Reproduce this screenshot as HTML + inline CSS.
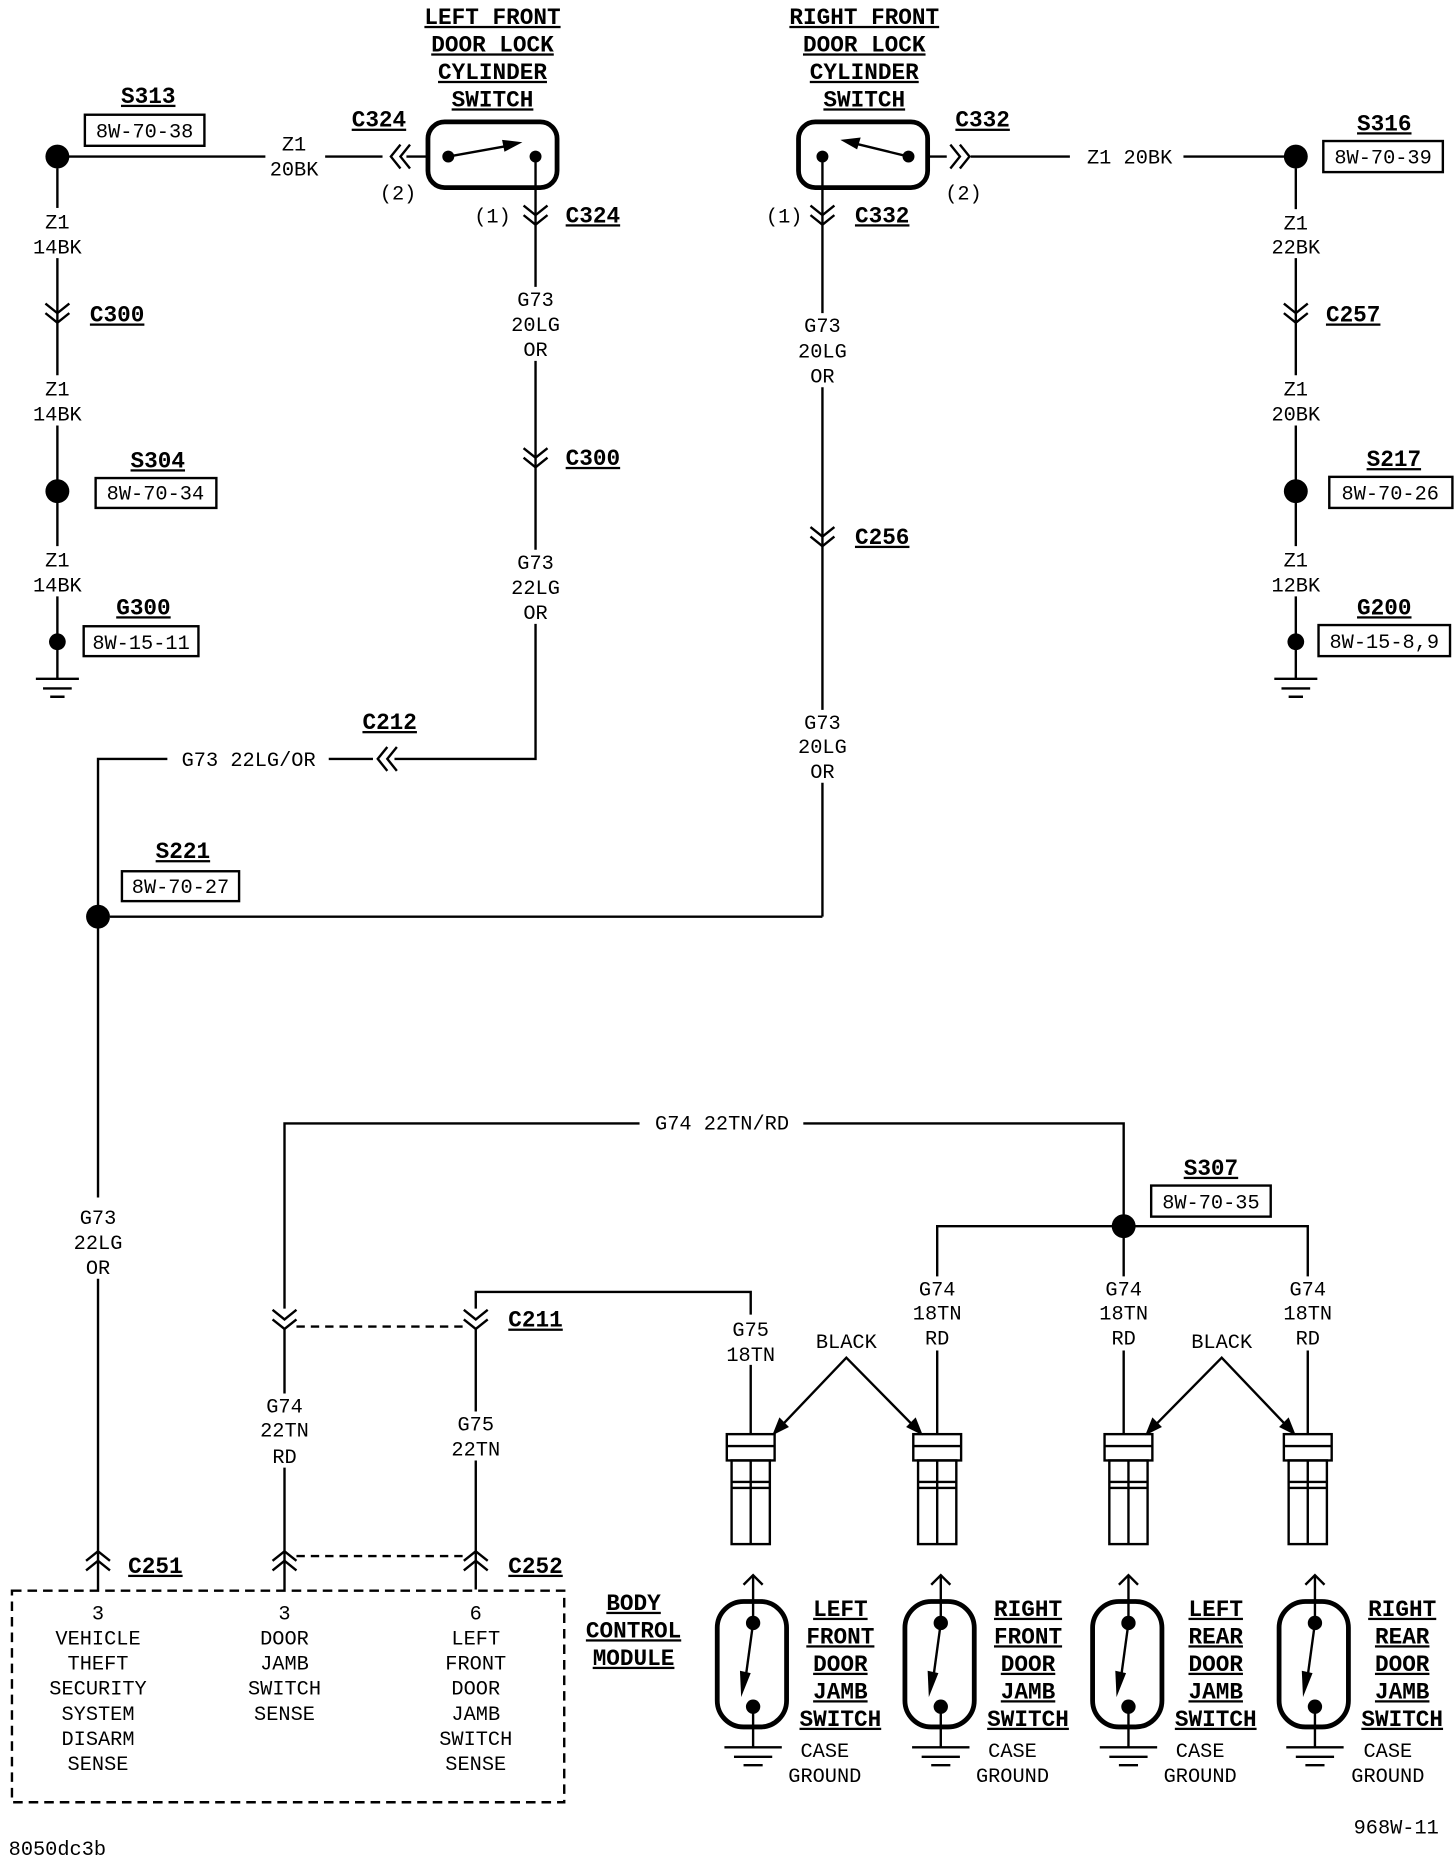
<!DOCTYPE html>
<html><head><meta charset="utf-8"><style>
html,body{margin:0;padding:0;background:#fff;}
svg{display:block;}
text{font-family:"Liberation Mono",monospace;fill:#000;}
.t{font-size:17px;text-anchor:middle;}
.b{font-size:19px;font-weight:bold;text-anchor:middle;text-decoration:underline;}
.l{fill:none;stroke:#000;stroke-width:2;}
.k{fill:none;stroke:#000;stroke-width:4;}
</style></head><body>
<svg width="1456" height="1862" viewBox="0 0 1218 1558" preserveAspectRatio="none" xmlns="http://www.w3.org/2000/svg">
<defs>
<g id="vd"><path class="l" d="M-10,-8 L0,0 L10,-8 M-10,0 L0,8 L10,0"/></g>
<g id="vu"><path class="l" d="M-10,8 L0,0 L10,8 M-10,16 L0,8 L10,16"/></g>
<g id="gnd"><path class="l" d="M-18,0 H18 M-12,8 H12 M-6,15 H6" stroke-width="2.5"/></g>
<g id="conn"><rect class="l" x="-20" y="0" width="40" height="22"/><line class="l" x1="-20" y1="10" x2="20" y2="10"/><rect class="l" x="-16" y="22" width="32" height="70"/><line class="l" x1="-16" y1="40" x2="16" y2="40"/><line class="l" x1="-16" y1="45" x2="16" y2="45"/><line class="l" x1="0" y1="22" x2="0" y2="92"/></g>
<g id="jsw"><rect class="k" x="-30" y="0" width="58" height="105" rx="22"/><line class="l" x1="0" y1="-22" x2="0" y2="18"/><path class="l" d="M-8,-14 L0,-22 L8,-14"/><circle cx="0" cy="18" r="6"/><circle cx="0" cy="88" r="6"/><line class="l" x1="0" y1="18" x2="-6" y2="62"/><path d="M-10,80 L-11,58 L-2,60 Z"/><line class="l" x1="0" y1="88" x2="0" y2="122" stroke-width="3"/><line class="l" x1="-24" y1="122" x2="24" y2="122" stroke-width="3"/><path class="l" d="M-16,130 H16 M-8,137 H8" stroke-width="2.5"/></g>
</defs>

<g class="b"><text x="412" y="20">LEFT FRONT</text><text x="412" y="43">DOOR LOCK</text><text x="412" y="66">CYLINDER</text><text x="412" y="89">SWITCH</text>
<text x="723" y="20">RIGHT FRONT</text><text x="723" y="43">DOOR LOCK</text><text x="723" y="66">CYLINDER</text><text x="723" y="89">SWITCH</text></g>

<rect class="k" x="358" y="102" width="108" height="55" rx="14"/>
<circle cx="375" cy="131" r="5"/><circle cx="448" cy="131" r="5"/>
<line class="l" x1="375" y1="131" x2="425" y2="122"/><path d="M437,119 L420,117 L422,127 Z"/>
<path class="l" d="M57,131 H222 M272,131 H320 M340,131 H358"/>
<path class="l" d="M335,121 L327,131 L335,141 M343,121 L335,131 L343,141"/>
<text class="t" x="333" y="167">(2)</text>
<text class="t" x="246" y="126">Z1</text><text class="t" x="246" y="147">20BK</text>
<text class="b" x="317" y="106">C324</text>
<line class="l" x1="448" y1="131" x2="448" y2="240"/>
<use href="#vd" x="448" y="180"/>
<text class="t" x="412" y="186">(1)</text><text class="b" x="496" y="186">C324</text>
<text class="t" x="448" y="256">G73</text><text class="t" x="448" y="277">20LG</text><text class="t" x="448" y="298">OR</text>
<line class="l" x1="448" y1="302" x2="448" y2="460"/>
<use href="#vd" x="448" y="383"/><text class="b" x="496" y="389">C300</text>
<text class="t" x="448" y="476">G73</text><text class="t" x="448" y="497">22LG</text><text class="t" x="448" y="518">OR</text>
<path class="l" d="M448,522 V635 H330 M312,635 H275"/>
<path class="l" d="M324,625 L316,635 L324,645 M332,625 L324,635 L332,645"/>
<text class="b" x="326" y="610">C212</text>
<text class="t" x="208" y="641">G73 22LG/OR</text>
<path class="l" d="M140,635 H82 V1002"/>
<circle cx="82" cy="767" r="10"/>
<line class="l" x1="92" y1="767" x2="688" y2="767"/>
<text class="b" x="153" y="718">S221</text><rect class="l" x="102" y="729" width="98" height="25"/><text class="t" x="151" y="747">8W-70-27</text>
<text class="t" x="82" y="1024">G73</text><text class="t" x="82" y="1045">22LG</text><text class="t" x="82" y="1066">OR</text>
<line class="l" x1="82" y1="1070" x2="82" y2="1330"/>
<use href="#vu" x="82" y="1298"/><text class="b" x="130" y="1316">C251</text>

<circle cx="48" cy="131" r="10"/>
<text class="b" x="124" y="86">S313</text><rect class="l" x="71" y="96" width="100" height="26"/><text class="t" x="121" y="115">8W-70-38</text>
<line class="l" x1="48" y1="141" x2="48" y2="174"/>
<text class="t" x="48" y="191">Z1</text><text class="t" x="48" y="212">14BK</text>
<line class="l" x1="48" y1="216" x2="48" y2="314"/>
<use href="#vd" x="48" y="262"/><text class="b" x="98" y="269">C300</text>
<text class="t" x="48" y="331">Z1</text><text class="t" x="48" y="352">14BK</text>
<line class="l" x1="48" y1="356" x2="48" y2="457"/>
<circle cx="48" cy="411" r="10"/>
<text class="b" x="132" y="391">S304</text><rect class="l" x="80" y="400" width="101" height="25"/><text class="t" x="130" y="418">8W-70-34</text>
<text class="t" x="48" y="474">Z1</text><text class="t" x="48" y="495">14BK</text>
<line class="l" x1="48" y1="499" x2="48" y2="568"/>
<circle cx="48" cy="537" r="7"/>
<text class="b" x="120" y="514">G300</text><rect class="l" x="70" y="524" width="96" height="25"/><text class="t" x="118" y="543">8W-15-11</text>
<use href="#gnd" x="48" y="568"/>

<rect class="k" x="668" y="102" width="108" height="55" rx="14"/>
<circle cx="688" cy="131" r="5"/><circle cx="760" cy="131" r="5"/>
<line class="l" x1="760" y1="131" x2="715" y2="120"/><path d="M703,117 L720,115 L717,125 Z"/>
<path class="l" d="M776,131 H792 M812,131 H895 M990,131 H1075"/>
<path class="l" d="M795,121 L803,131 L795,141 M803,121 L811,131 L803,141"/>
<text class="t" x="806" y="167">(2)</text>
<text class="b" x="822" y="106">C332</text>
<text class="t" x="945" y="137">Z1 20BK</text>
<line class="l" x1="688" y1="131" x2="688" y2="262"/>
<use href="#vd" x="688" y="180"/>
<text class="t" x="656" y="186">(1)</text><text class="b" x="738" y="186">C332</text>
<text class="t" x="688" y="278">G73</text><text class="t" x="688" y="299">20LG</text><text class="t" x="688" y="320">OR</text>
<line class="l" x1="688" y1="324" x2="688" y2="594"/>
<use href="#vd" x="688" y="449"/><text class="b" x="738" y="455">C256</text>
<text class="t" x="688" y="610">G73</text><text class="t" x="688" y="630">20LG</text><text class="t" x="688" y="651">OR</text>
<line class="l" x1="688" y1="655" x2="688" y2="767"/>

<circle cx="1084" cy="131" r="10"/>
<text class="b" x="1158" y="109">S316</text><rect class="l" x="1107" y="118" width="100" height="26"/><text class="t" x="1157" y="137">8W-70-39</text>
<line class="l" x1="1084" y1="141" x2="1084" y2="175"/>
<text class="t" x="1084" y="192">Z1</text><text class="t" x="1084" y="212">22BK</text>
<line class="l" x1="1084" y1="216" x2="1084" y2="314"/>
<use href="#vd" x="1084" y="262"/><text class="b" x="1132" y="269">C257</text>
<text class="t" x="1084" y="331">Z1</text><text class="t" x="1084" y="352">20BK</text>
<line class="l" x1="1084" y1="356" x2="1084" y2="457"/>
<circle cx="1084" cy="411" r="10"/>
<text class="b" x="1166" y="390">S217</text><rect class="l" x="1112" y="399" width="103" height="26"/><text class="t" x="1163" y="418">8W-70-26</text>
<text class="t" x="1084" y="474">Z1</text><text class="t" x="1084" y="495">12BK</text>
<line class="l" x1="1084" y1="499" x2="1084" y2="568"/>
<circle cx="1084" cy="537" r="7"/>
<text class="b" x="1158" y="514">G200</text><rect class="l" x="1103" y="523" width="110" height="26"/><text class="t" x="1158" y="542">8W-15-8,9</text>
<use href="#gnd" x="1084" y="568"/>

<path class="l" d="M238,1095 V940 H535 M672,940 H940 V1200"/>
<text class="t" x="604" y="945">G74 22TN/RD</text>
<circle cx="940" cy="1026" r="10"/>
<text class="b" x="1013" y="983">S307</text><rect class="l" x="963" y="992" width="100" height="26"/><text class="t" x="1013" y="1011">8W-70-35</text>
<path class="l" d="M784,1200 V1026 H1094 V1200"/>
<rect x="776" y="1068" width="16" height="62" fill="#fff"/><rect x="932" y="1068" width="16" height="62" fill="#fff"/><rect x="1086" y="1068" width="16" height="62" fill="#fff"/><rect x="620" y="1100" width="16" height="42" fill="#fff"/>
<g class="t"><text x="784" y="1084">G74</text><text x="784" y="1104">18TN</text><text x="784" y="1125">RD</text>
<text x="940" y="1084">G74</text><text x="940" y="1104">18TN</text><text x="940" y="1125">RD</text>
<text x="1094" y="1084">G74</text><text x="1094" y="1104">18TN</text><text x="1094" y="1125">RD</text>
<text x="628" y="1118">G75</text><text x="628" y="1139">18TN</text></g>
<path class="l" d="M398,1095 V1081 H628 V1100 M628,1142 V1200"/>
<use href="#vd" x="238" y="1104"/><use href="#vd" x="398" y="1104"/>
<line class="l" x1="248" y1="1110" x2="388" y2="1110" stroke-dasharray="7,5"/>
<text class="b" x="448" y="1110">C211</text>
<line class="l" x1="238" y1="1112" x2="238" y2="1166"/>
<text class="t" x="238" y="1182">G74</text><text class="t" x="238" y="1202">22TN</text><text class="t" x="238" y="1224">RD</text>
<line class="l" x1="238" y1="1228" x2="238" y2="1330"/>
<line class="l" x1="398" y1="1112" x2="398" y2="1181"/>
<text class="t" x="398" y="1197">G75</text><text class="t" x="398" y="1218">22TN</text>
<line class="l" x1="398" y1="1222" x2="398" y2="1330"/>
<use href="#vu" x="238" y="1298"/><use href="#vu" x="398" y="1298"/>
<line class="l" x1="248" y1="1302" x2="388" y2="1302" stroke-dasharray="7,5"/>
<text class="b" x="448" y="1316">C252</text>

<rect class="l" x="10" y="1331" width="462" height="177" stroke-dasharray="8,5"/>
<g class="t"><text x="82" y="1355">3</text><text x="82" y="1376">VEHICLE</text><text x="82" y="1397">THEFT</text><text x="82" y="1418">SECURITY</text><text x="82" y="1439">SYSTEM</text><text x="82" y="1460">DISARM</text><text x="82" y="1481">SENSE</text>
<text x="238" y="1355">3</text><text x="238" y="1376">DOOR</text><text x="238" y="1397">JAMB</text><text x="238" y="1418">SWITCH</text><text x="238" y="1439">SENSE</text>
<text x="398" y="1355">6</text><text x="398" y="1376">LEFT</text><text x="398" y="1397">FRONT</text><text x="398" y="1418">DOOR</text><text x="398" y="1439">JAMB</text><text x="398" y="1460">SWITCH</text><text x="398" y="1481">SENSE</text></g>
<g class="b"><text x="530" y="1347">BODY</text><text x="530" y="1370">CONTROL</text><text x="530" y="1393">MODULE</text></g>

<text class="t" x="708" y="1128">BLACK</text><text class="t" x="1022" y="1128">BLACK</text>
<path class="l" d="M648,1199 L708,1136 L770,1199 M960,1199 L1022,1136 L1082,1199"/>
<path d="M646,1201 L652,1186 L660,1194 Z M772,1201 L758,1194 L766,1186 Z M958,1201 L964,1186 L972,1194 Z M1084,1201 L1070,1194 L1078,1186 Z"/>

<use href="#conn" x="628" y="1200"/><use href="#conn" x="784" y="1200"/><use href="#conn" x="944" y="1200"/><use href="#conn" x="1094" y="1200"/>

<use href="#jsw" x="630" y="1340"/><use href="#jsw" x="787" y="1340"/><use href="#jsw" x="944" y="1340"/><use href="#jsw" x="1100" y="1340"/>
<g class="b"><text x="703" y="1352">LEFT</text><text x="703" y="1375">FRONT</text><text x="703" y="1398">DOOR</text><text x="703" y="1421">JAMB</text><text x="703" y="1444">SWITCH</text>
<text x="860" y="1352">RIGHT</text><text x="860" y="1375">FRONT</text><text x="860" y="1398">DOOR</text><text x="860" y="1421">JAMB</text><text x="860" y="1444">SWITCH</text>
<text x="1017" y="1352">LEFT</text><text x="1017" y="1375">REAR</text><text x="1017" y="1398">DOOR</text><text x="1017" y="1421">JAMB</text><text x="1017" y="1444">SWITCH</text>
<text x="1173" y="1352">RIGHT</text><text x="1173" y="1375">REAR</text><text x="1173" y="1398">DOOR</text><text x="1173" y="1421">JAMB</text><text x="1173" y="1444">SWITCH</text></g>
<g class="t"><text x="690" y="1470">CASE</text><text x="690" y="1491">GROUND</text>
<text x="847" y="1470">CASE</text><text x="847" y="1491">GROUND</text>
<text x="1004" y="1470">CASE</text><text x="1004" y="1491">GROUND</text>
<text x="1161" y="1470">CASE</text><text x="1161" y="1491">GROUND</text>
<text x="1168" y="1534">968W-11</text><text x="48" y="1552">8050dc3b</text></g>
</svg>
</body></html>
